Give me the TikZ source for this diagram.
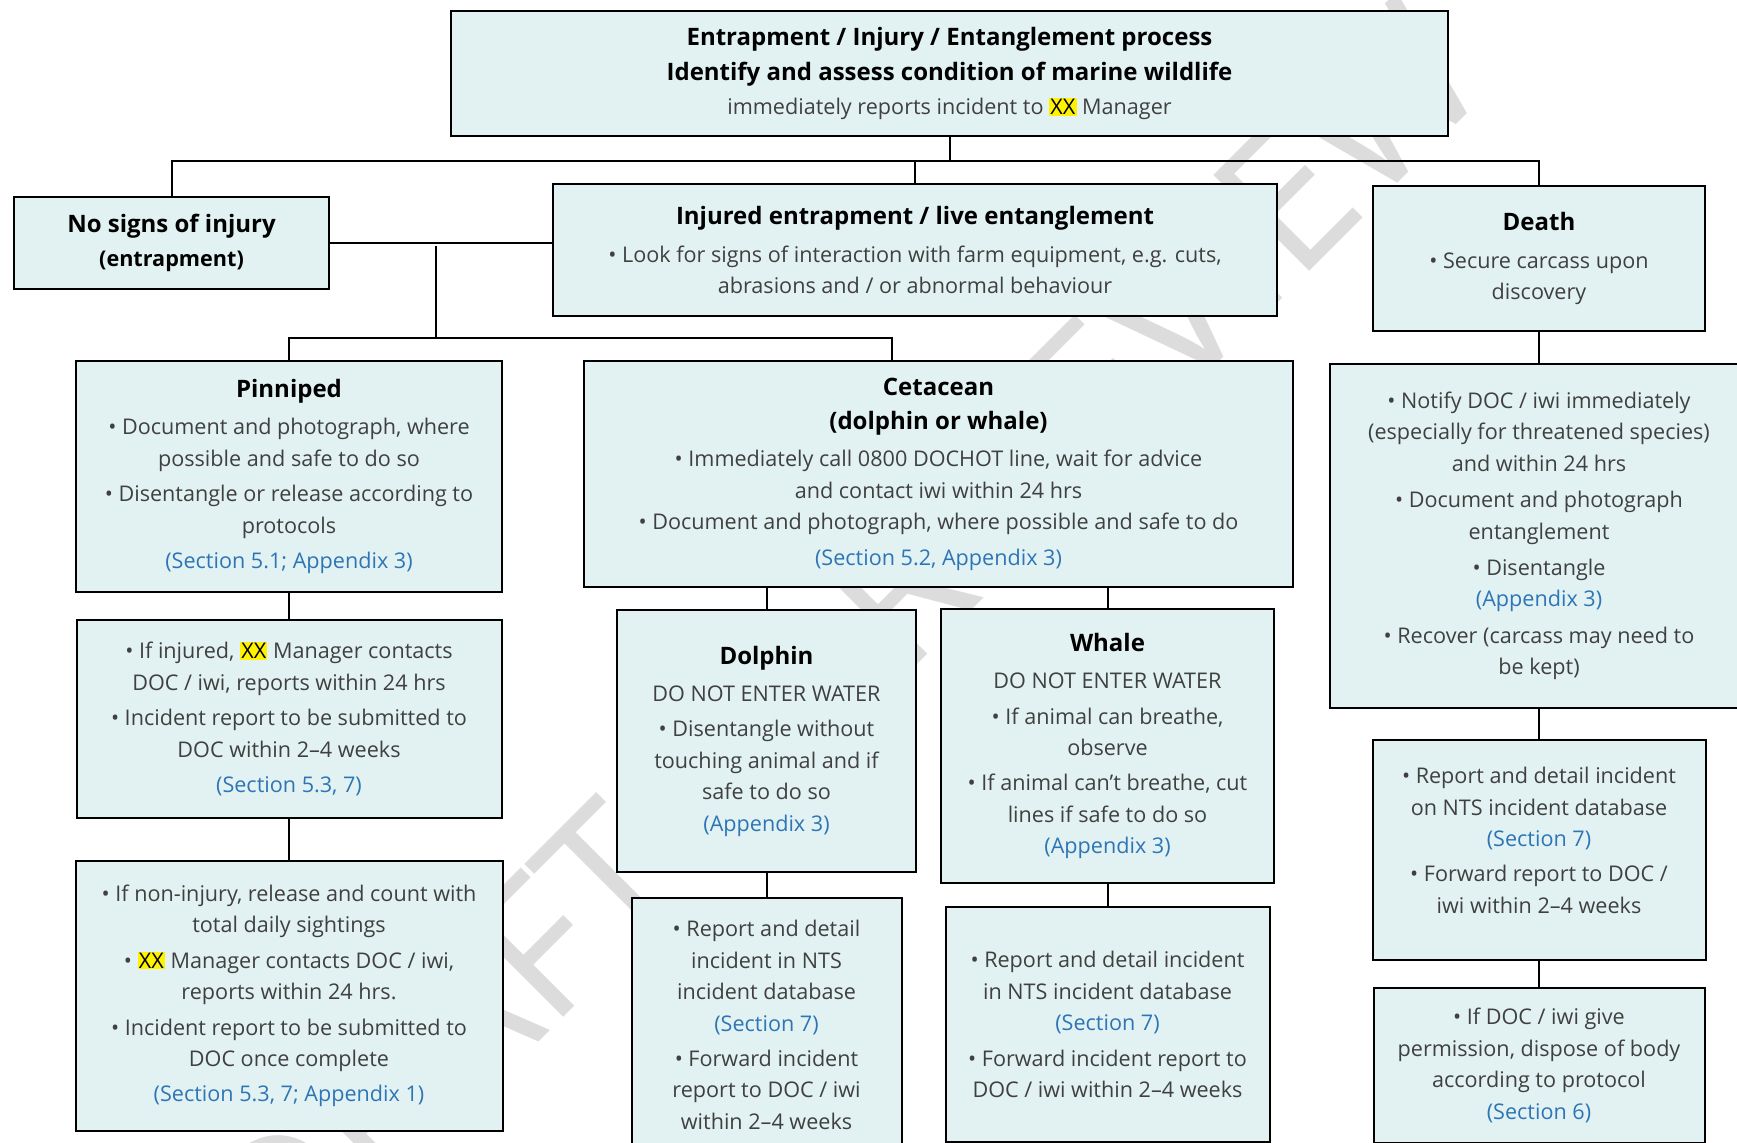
\documentclass[tikz,border=0pt]{standalone}
\usepackage{fontspec}
\setmainfont{Open Sans}
\usetikzlibrary{positioning}
\definecolor{boxfill}{RGB}{226,242,242}
\definecolor{refblue}{RGB}{46,117,182}
\definecolor{bodygray}{RGB}{64,64,64}
\definecolor{markgray}{RGB}{220,220,220}
\newcommand{\refsec}[1]{\textcolor{refblue}{#1}}
\newcommand{\hlxx}{{\setlength{\fboxsep}{0.6pt}\colorbox{yellow}{\textcolor{black}{XX}}}}
\newcommand{\hd}[1]{{\fontsize{12}{17}\selectfont\bfseries\color{black}#1}}

\begin{document}
\begin{tikzpicture}
[
x=0.5pt, y=-0.5pt,
box/.style={rectangle, draw, line width=1pt, fill=boxfill, align=center, inner sep=2pt, text=bodygray, node font=\fontsize{10.8}{15.7}\selectfont},
watermark/.style={rotate=45, text=markgray, node font=\fontsize{95}{95}\selectfont},
link/.style={line width=1pt},
]
\useasboundingbox (0,0) rectangle (1737,1142);
\clip (0,0) rectangle (1737,1142);

\node (draft) [watermark] at (842,643) {DRAFT FOR REVIEW};

\node (head) [box, minimum width=498.5pt, minimum height=62.5pt] at (949.5,73.5)
{\hd{Entrapment / Injury / Entanglement process}\\[1.5pt]
\hd{Identify and assess condition of marine wildlife}\\[1.5pt]
immediately reports incident to \hlxx{} Manager};

\node (nosigns) [box, minimum width=157.5pt, minimum height=46pt] at (171.5,243)
{\hd{No signs of injury}\\[1.5pt] {\bfseries\color{black}(entrapment)}};

\node (injured) [box, minimum width=362pt, minimum height=66pt] at (915,250)
{\hd{Injured entrapment / live entanglement}\\[3pt]
• Look for signs of interaction with farm equipment, e.g. cuts,\\
abrasions and / or abnormal behaviour};

\node (death) [box, minimum width=166pt, minimum height=72.5pt] at (1539,258.5)
{\hd{Death}\\[3pt] • Secure carcass upon\\ discovery};

\node (pinniped) [box, minimum width=213pt, minimum height=115.5pt] at (289,476.5)
{\hd{Pinniped}\\[3pt]
• Document and photograph, where\\ possible and safe to do so\\[2pt]
• Disentangle or release according to\\ protocols\\[2pt]
\refsec{(Section 5.1; Appendix 3)}};

\node (pinninj) [box, below=13pt of pinniped, minimum width=212.5pt, minimum height=99pt]
{• If injured, \hlxx{} Manager contacts\\ DOC / iwi, reports within 24 hrs\\[2pt]
• Incident report to be submitted to\\ DOC within 2–4 weeks\\[2pt]
\refsec{(Section 5.3, 7)}};

\node (pinnrel) [box, below=20.5pt of pinninj, minimum width=213.5pt, minimum height=135pt]
{• If non-injury, release and count with\\ total daily sightings\\[2pt]
• \hlxx{} Manager contacts DOC / iwi,\\ reports within 24 hrs.\\[2pt]
• Incident report to be submitted to\\ DOC once complete\\[2pt]
\refsec{(Section 5.3, 7; Appendix 1)}};

\node (cetacean) [box, minimum width=354.5pt, minimum height=113pt] at (938.5,474)
{\hd{Cetacean}\\[1.5pt] \hd{(dolphin or whale)}\\[3pt]
• Immediately call 0800 DOCHOT line, wait for advice\\ and contact iwi within 24 hrs\\
• Document and photograph, where possible and safe to do\\[2pt]
\refsec{(Section 5.2, Appendix 3)}};

\node (dolphin) [box, minimum width=149.5pt, minimum height=131pt] at (766.5,741)
{\hd{Dolphin}\\[3pt] DO NOT ENTER WATER\\[2pt]
• Disentangle without\\ touching animal and if\\ safe to do so\\
\refsec{(Appendix 3)}};

\node (whale) [box, minimum width=166.5pt, minimum height=137pt] at (1107.5,746)
{\hd{Whale}\\[3pt] DO NOT ENTER WATER\\[2pt]
• If animal can breathe,\\ observe\\[2pt]
• If animal can’t breathe, cut\\ lines if safe to do so\\
\refsec{(Appendix 3)}};

\node (dolrep) [box, below=12pt of dolphin, minimum width=135pt, minimum height=127pt]
{• Report and detail\\ incident in NTS\\ incident database\\
\refsec{(Section 7)}\\[2pt]
• Forward incident\\ report to DOC / iwi\\ within 2–4 weeks};

\node (whalerep) [box, below=11pt of whale, minimum width=162pt, minimum height=117.5pt]
{• Report and detail incident\\ in NTS incident database\\
\refsec{(Section 7)}\\[2pt]
• Forward incident report to\\ DOC / iwi within 2–4 weeks};

\node (deathrec) [box, below=15.5pt of death, minimum width=209pt, minimum height=172pt]
{• Notify DOC / iwi immediately\\ (especially for threatened species)\\ and within 24 hrs\\[2.5pt]
• Document and photograph\\ entanglement\\[2.5pt]
• Disentangle\\ \refsec{(Appendix 3)}\\[2.5pt]
• Recover (carcass may need to\\ be kept)};

\node (deathrep) [box, below=15pt of deathrec, minimum width=166.5pt, minimum height=110pt]
{• Report and detail incident\\ on NTS incident database\\
\refsec{(Section 7)}\\[2pt]
• Forward report to DOC /\\ iwi within 2–4 weeks\\[-6pt]\mbox{}};

\node (deathdisp) [box, below=13pt of deathrep, minimum width=165.5pt, minimum height=77.5pt]
{• If DOC / iwi give\\ permission, dispose of body\\ according to protocol\\
\refsec{(Section 6)}};

\coordinate (bus) at (950,161);
\coordinate (fork) at (436,246);
\coordinate (bus2) at (436,338);
\coordinate (cetin) at (892,361);

\draw [link] (head.south) -- (head.south |- bus);
\draw [link] (nosigns.north) -- (nosigns.north |- bus) -- (death.north |- bus) -- (death.north);
\draw [link] (injured.north |- bus) -- (injured.north);
\draw [link] (nosigns.east) -- (nosigns.east -| injured.west);
\draw [link] (fork) -- (bus2);
\draw [link] (pinniped.north) -- (pinniped.north |- bus2) -- (cetin |- bus2) -- (cetin);
\draw [link] (pinninj.north |- pinniped.south) -- (pinninj.north);
\draw [link] (pinnrel.north |- pinninj.south) -- (pinnrel.north);
\draw [link] (dolphin.north |- cetacean.south) -- (dolphin.north);
\draw [link] (whale.north |- cetacean.south) -- (whale.north);
\draw [link] (dolphin.south) -- (dolrep.north);
\draw [link] (whale.south) -- (whalerep.north);
\draw [link] (death.south) -- (deathrec.north);
\draw [link] (deathrec.south) -- (deathrep.north);
\draw [link] (deathrep.south) -- (deathdisp.north);
\end{tikzpicture}
\end{document}
